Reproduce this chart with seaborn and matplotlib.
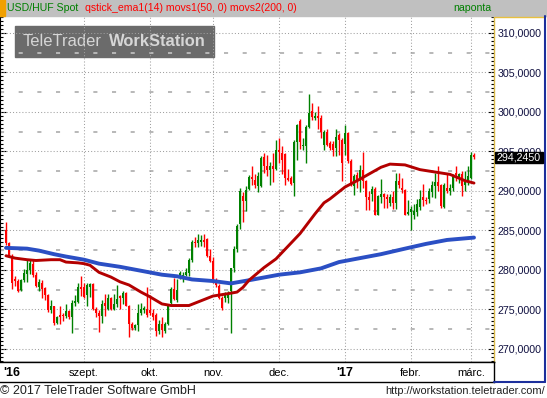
#!/usr/bin/env python3
"""USD/HUF daily candles with 50/200 moving averages, TeleTrader style."""

import numpy as np
import pandas as pd
import matplotlib
matplotlib.use("Agg")
import matplotlib.pyplot as plt
import seaborn as sns
from matplotlib.patches import Rectangle
from matplotlib.lines import Line2D
from matplotlib.ticker import MultipleLocator, FuncFormatter

# --- data ----------------------------------------------------------------
OPEN = [285.0, 283.4, 281.8, 278.9, 278.6, 277.5, 278.7, 279.5, 280.0, 280.7,
        279.4, 277.9, 278.3, 277.7, 276.8, 274.9, 275.4, 273.3, 274.3, 274.3,
        274.2, 274.8, 274.1, 275.8, 276.0, 277.9, 277.8, 276.8, 277.9, 278.2,
        275.1, 274.5, 274.2, 275.8, 275.1, 276.4, 275.1, 275.7, 276.7, 276.5,
        277.1, 275.5, 273.2, 272.6, 273.0, 274.5, 274.9, 275.0, 274.9, 274.5,
        274.3, 272.3, 273.1, 272.3, 273.1, 275.8, 277.6, 276.2, 279.1, 279.2,
        279.4, 279.6, 281.2, 283.6, 283.4, 283.5, 283.8, 283.9, 281.8, 281.1,
        278.7, 278.0, 276.5, 276.4, 276.5, 277.4, 280.2, 282.7, 285.8, 289.4,
        288.7, 290.2, 291.8, 291.4, 290.6, 290.6, 294.3, 293.1, 292.7, 293.2,
        292.8, 295.2, 294.8, 294.7, 291.6, 291.6, 291.0, 296.2, 298.9, 295.7,
        295.7, 298.1, 300.1, 299.3, 299.5, 299.2, 295.8, 297.5, 296.1, 296.0,
        295.4, 297.1, 296.5, 295.9, 297.3, 293.8, 290.6, 292.0, 291.3, 292.6,
        291.2, 289.2, 289.6, 290.3, 287.0, 289.3, 289.6, 289.2, 288.5, 289.2,
        288.5, 291.3, 290.4, 290.1, 287.1, 287.3, 287.0, 287.4, 288.0, 289.2,
        288.9, 289.0, 289.9, 290.6, 291.1, 290.8, 288.0, 290.4, 290.0, 290.4,
        292.3, 291.8, 292.1, 290.7, 291.1, 291.7, 294.6]
HIGH = [286.1, 283.6, 282.0, 279.3, 278.9, 278.9, 280.1, 281.3, 281.4, 281.3,
        279.7, 278.9, 278.7, 277.8, 277.0, 276.2, 275.5, 274.2, 275.4, 274.6,
        275.7, 274.9, 276.2, 276.8, 278.3, 279.2, 278.3, 278.3, 278.3, 278.3,
        275.3, 274.9, 276.2, 277.0, 277.0, 276.6, 277.0, 278.1, 276.8, 277.3,
        277.2, 275.6, 273.4, 273.2, 275.7, 275.8, 275.5, 277.9, 276.8, 275.0,
        274.5, 273.7, 274.1, 273.4, 275.5, 277.8, 279.0, 278.8, 279.9, 279.7,
        280.2, 281.5, 283.8, 284.2, 284.6, 284.4, 284.5, 284.1, 282.6, 281.7,
        279.0, 278.2, 276.7, 277.2, 277.4, 280.3, 283.0, 285.8, 290.4, 289.9,
        290.6, 292.0, 293.2, 292.1, 292.4, 294.4, 294.8, 294.6, 293.7, 294.8,
        296.5, 296.7, 295.7, 294.8, 292.8, 291.9, 296.5, 298.5, 299.1, 296.7,
        298.3, 302.3, 301.1, 300.0, 300.7, 299.6, 297.7, 297.9, 296.3, 296.3,
        297.9, 297.3, 296.7, 298.3, 297.5, 294.0, 292.2, 292.4, 293.3, 294.9,
        291.4, 290.0, 290.6, 290.5, 289.5, 291.5, 289.8, 289.6, 289.6, 290.0,
        292.3, 292.3, 291.7, 290.2, 288.8, 288.1, 288.4, 289.0, 290.1, 290.9,
        289.2, 290.4, 291.3, 292.3, 293.1, 290.9, 291.0, 292.1, 290.9, 292.1,
        293.2, 292.3, 292.5, 292.5, 293.1, 294.9, 294.8]
LOW = [283.1, 281.6, 277.6, 278.0, 277.2, 277.3, 278.5, 278.5, 279.5, 279.1,
       277.8, 277.4, 276.5, 276.2, 274.7, 274.5, 273.0, 273.1, 273.2, 273.6,
       273.9, 273.8, 272.0, 275.5, 275.8, 276.7, 276.4, 275.4, 276.6, 274.9,
       274.0, 272.2, 273.3, 274.2, 274.9, 274.9, 274.9, 275.3, 275.1, 275.7,
       275.4, 271.5, 272.4, 272.4, 272.3, 274.3, 274.5, 274.0, 274.3, 273.7,
       271.6, 271.9, 271.5, 272.0, 273.0, 275.7, 276.2, 276.0, 278.8, 278.5,
       279.2, 279.3, 281.0, 282.9, 282.9, 283.0, 282.9, 281.7, 281.0, 278.3,
       277.9, 276.3, 274.9, 276.0, 275.8, 272.0, 279.8, 282.3, 285.2, 286.1,
       287.5, 290.1, 290.7, 290.4, 289.9, 290.5, 292.3, 291.9, 290.8, 291.1,
       292.6, 293.5, 292.2, 290.8, 291.3, 290.8, 289.4, 293.9, 295.3, 295.2,
       293.6, 298.0, 299.0, 299.0, 297.8, 296.7, 295.2, 295.7, 295.2, 294.4,
       294.4, 294.6, 291.3, 294.6, 293.6, 290.6, 289.5, 290.4, 289.9, 290.4,
       287.6, 287.6, 288.7, 286.9, 286.9, 288.5, 287.9, 287.9, 288.1, 287.7,
       287.7, 290.4, 289.8, 286.9, 286.9, 285.0, 286.5, 286.8, 287.6, 288.1,
       288.3, 288.5, 289.2, 289.1, 290.0, 287.9, 287.9, 289.8, 289.5, 290.0,
       291.3, 291.0, 289.4, 290.0, 290.8, 291.5, 294.0]
CLOSE = [283.4, 281.8, 278.3, 278.6, 277.4, 278.7, 279.6, 280.0, 280.9, 279.4,
         278.0, 278.5, 277.6, 276.8, 274.9, 275.4, 273.3, 274.0, 274.1, 274.2,
         274.8, 274.0, 275.8, 276.1, 277.9, 277.6, 276.6, 278.1, 278.2, 275.1,
         274.5, 274.2, 275.7, 275.5, 276.4, 275.1, 275.7, 276.3, 276.4, 277.1,
         275.5, 273.2, 272.6, 273.0, 274.5, 275.1, 275.2, 274.3, 274.5, 274.0,
         272.3, 273.1, 272.4, 273.1, 275.5, 277.6, 276.3, 277.5, 279.6, 279.4,
         279.7, 281.2, 283.6, 283.4, 283.8, 283.8, 283.6, 281.8, 281.1, 278.6,
         278.1, 276.5, 275.2, 276.8, 276.9, 280.2, 282.7, 285.6, 290.0, 288.7,
         290.1, 291.8, 291.5, 290.7, 291.9, 294.2, 293.1, 292.7, 293.2, 292.8,
         295.2, 294.9, 293.9, 291.6, 291.4, 290.9, 296.2, 298.3, 296.2, 295.8,
         298.1, 299.9, 299.4, 299.5, 299.2, 297.5, 297.5, 295.8, 295.5, 295.2,
         296.8, 296.5, 293.6, 297.3, 293.8, 290.8, 291.9, 291.2, 292.6, 291.2,
         289.2, 288.8, 290.2, 287.0, 289.4, 289.6, 289.2, 289.0, 289.2, 288.5,
         291.3, 290.8, 290.1, 287.0, 287.4, 287.7, 287.5, 288.4, 289.0, 288.8,
         288.7, 290.0, 290.7, 291.1, 290.6, 288.1, 290.7, 290.0, 290.4, 292.0,
         292.0, 292.2, 290.6, 291.1, 291.9, 294.6, 294.245]

MA50_IDX = [0, 3, 7, 10, 15, 18, 20, 24, 26, 28, 31, 35, 38, 41, 45, 48, 52,
            55, 61, 65, 69, 74, 77, 79, 81, 86, 90, 98, 103, 106, 108, 113,
            118, 125, 128, 133, 138, 143, 148, 153, 156]
MA50_VAL = [281.8, 281.5, 281.3, 281.2, 281.3, 281.3, 281.0, 280.9, 280.8,
            280.6, 279.7, 279.1, 278.5, 278.1, 277.2, 276.6, 275.7, 275.5,
            275.5, 276.1, 276.7, 277.0, 277.2, 277.8, 278.7, 280.3, 281.4,
            284.6, 287.1, 288.5, 289.0, 290.5, 291.5, 293.0, 293.4, 293.3,
            292.7, 292.4, 292.1, 291.3, 291.0]

MA200_IDX = [0, 7, 11, 16, 20, 26, 31, 38, 45, 52, 57, 62, 69, 75, 81, 91, 98,
             105, 111, 118, 125, 133, 140, 147, 156]
MA200_VAL = [282.8, 282.7, 282.45, 282.0, 281.7, 281.3, 280.8, 280.4, 279.9,
             279.4, 279.2, 278.8, 278.6, 278.3, 278.7, 279.4, 279.7, 280.2,
             281.0, 281.5, 282.0, 282.7, 283.3, 283.8, 284.1]

MONTH_POS = [2, 26, 48, 69, 91, 113, 135, 155]
MONTH_LABELS = ["'16", "szept.", "okt.", "nov.", "dec.", "'17", "febr.", "márc."]

# --- layout helpers (pixel coords, origin top-left) ----------------------
W, H = 547, 398


def fx(x):
    return x / W


def fy(y):
    return 1 - y / H


sns.set_style("white")
plt.rcParams["font.family"] = ["Liberation Sans", "DejaVu Sans"]

fig = plt.figure(figsize=(W / 100, H / 100), dpi=100)
fig.patch.set_facecolor("white")

# main price panel
ax = fig.add_axes([0, fy(362), fx(494), (362 - 16) / H])
ax.set_facecolor("white")
ax.set_xlim(-2, 162.67)
ax.set_ylim(268.35, 312.15)

# grid
for v in range(270, 311, 5):
    ax.axhline(v, color="#a0a0a0", lw=0.75, ls=(0, (1, 2)), zorder=1)
for v in np.arange(272.5, 311, 5):
    ax.axhline(v, color="#b8b8b8", lw=1.4, ls=(0, (2.1, 7.5)), zorder=1)
for p in MONTH_POS[1:]:
    ax.axvline(p, color="#a0a0a0", lw=0.75, ls=(0, (1, 2)), zorder=1)

# watermark box
ax.add_patch(Rectangle((fx(15), fy(57)), fx(214) - fx(15), 31 / H,
                       transform=fig.transFigure, color="#6b6b6b",
                       zorder=0.5, clip_on=False))
ax.text(fx(23), fy(42), "TeleTrader", transform=fig.transFigure,
        color="#d6d6d6", fontsize=11.9, va="center", ha="left", zorder=0.6)
ax.text(fx(206), fy(42), "WorkStation", transform=fig.transFigure,
        color="#d6d6d6", fontsize=11.9, fontweight="bold", va="center",
        ha="right", zorder=0.6)

# candles
df = pd.DataFrame({"open": OPEN, "high": HIGH, "low": LOW, "close": CLOSE})
df["pos"] = np.arange(len(df))
up = df["close"] >= df["open"]
colors = np.where(up, "#008000", "#ff0000")
ax.vlines(df["pos"], df["low"], df["high"], colors=colors, lw=1.0, zorder=3)
body = (df["close"] - df["open"]).abs().clip(lower=0.13)
bottom = df[["open", "close"]].min(axis=1)
ax.bar(df["pos"], body, bottom=bottom, width=0.85, color=colors,
       linewidth=0, zorder=3)

# moving averages
sns.lineplot(x=MA200_IDX, y=MA200_VAL, color="#2b4fc4", linewidth=2.8,
             ax=ax, legend=False, zorder=4)
sns.lineplot(x=MA50_IDX, y=MA50_VAL, color="#b30000", linewidth=2.1,
             ax=ax, legend=False, zorder=5)

# axes cosmetics
ax.set_xticks([])
ax.set_xlabel("")
ax.set_ylabel("")
ax.yaxis.set_major_locator(MultipleLocator(5))
ax.yaxis.set_minor_locator(MultipleLocator(0.5))
ax.yaxis.set_major_formatter(
    FuncFormatter(lambda v, _: f"{v:.4f}".replace(".", ",")))
ax.tick_params(axis="y", which="both", direction="in", left=True, right=True,
               labelleft=False, labelright=True, colors="black",
               labelcolor="#101040", labelsize=7.7, pad=2.5, width=0.8)
ax.tick_params(axis="y", which="major", length=4)
ax.tick_params(axis="y", which="minor", length=2)
ax.spines["top"].set_visible(False)
ax.spines["bottom"].set_color("black")
ax.spines["bottom"].set_linewidth(1.0)
ax.spines["left"].set_color("black")
ax.spines["left"].set_linewidth(0.8)
ax.spines["right"].set_color("#d8b848")
ax.spines["right"].set_linewidth(1.0)

# date band
ax_x = fig.add_axes([0, fy(382), fx(494), 20 / H])
ax_x.set_xlim(ax.get_xlim())
ax_x.set_ylim(0, 1)
ax_x.set_xticks([])
ax_x.set_yticks([])
ax_x.spines["left"].set_visible(False)
for side in ["top", "bottom", "right"]:
    ax_x.spines[side].set_color("black")
    ax_x.spines[side].set_linewidth(1.0)
for p, lab in zip(MONTH_POS, MONTH_LABELS):
    bold = lab.startswith("'")
    ax_x.text(p, 0.45, lab, ha="center", va="center",
              fontsize=9 if bold else 8, color="black",
              fontweight="bold" if bold else "normal")

# header bar
fig.patches.append(Rectangle((0, fy(16)), 1, 16 / H, transform=fig.transFigure,
                             color="#c0c0c0", zorder=1))
fig.patches.append(Rectangle((0, fy(16)), fx(5), 16 / H,
                             transform=fig.transFigure, color="#f0a000",
                             zorder=1.1))
fig.text(fx(7), fy(8), "USD/HUF Spot", color="#008000", fontsize=7.6,
         va="center", ha="left")
fig.text(fx(85), fy(8), "qstick_ema1(14) movs1(50, 0) movs2(200, 0)",
         color="#ff0000", fontsize=7.6, va="center", ha="left")
fig.text(fx(453), fy(8), "naponta", color="#008000", fontsize=7.6,
         va="center", ha="left")

# right panel borders
fig.lines.append(Line2D([fx(494), fx(545)], [fy(16.5), fy(16.5)],
                        transform=fig.transFigure, color="#e8c040", lw=1))
fig.lines.append(Line2D([fx(545), fx(545)], [fy(16), fy(382)],
                        transform=fig.transFigure, color="#1c2f9c", lw=1.5))
fig.lines.append(Line2D([fx(494), fx(545)], [fy(382), fy(382)],
                        transform=fig.transFigure, color="#1c2f9c", lw=1.5))

# last price marker
fig.patches.append(Rectangle((fx(495), fy(163)), fx(48), 11 / H,
                             transform=fig.transFigure, color="black",
                             zorder=2))
fig.text(fx(519), fy(157.5), f"{CLOSE[-1]:.4f}".replace(".", ","),
         color="white", fontsize=7.7, va="center", ha="center", zorder=3)

# footer
fig.text(fx(0), fy(391), "\u00a9 2017 TeleTrader Software GmbH",
         color="#202020", fontsize=9, va="center", ha="left")
fig.text(fx(545), fy(391), "http://workstation.teletrader.com/",
         color="#202020", fontsize=7.9, va="center", ha="right")

fig.savefig("out.png", dpi=100)
plt.close(fig)
